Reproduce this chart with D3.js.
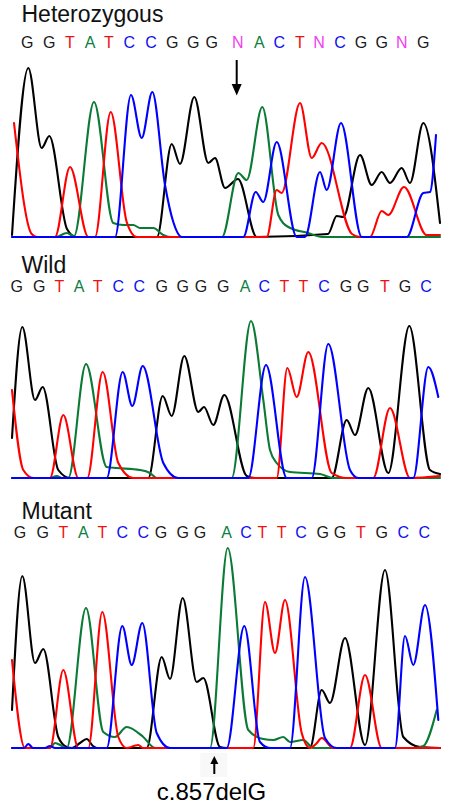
<!DOCTYPE html>
<html>
<head>
<meta charset="utf-8">
<script src="https://cdn.jsdelivr.net/npm/d3@7/dist/d3.min.js"></script>
<style>
  html, body { margin: 0; padding: 0; background: #fff; }
  svg { display: block; font-family: "Liberation Sans", Arial, sans-serif; }
</style>
</head>
<body>
<svg id="chart" width="450" height="804"></svg>
<script>
// ---------- DATA ----------
// Panel titles
const panelTitles = ["Heterozygous", "Wild", "Mutant"];

// Base calls and their scan positions
const hetSeq = ["G","G","T","A","T","C","C","G","G","G","N","A","C","T","N","C","G","G","N","G"];
const hetPos = [27.3,49.3,70,90,109,129.3,151,172.3,193.3,211.7,237.7,259.3,279.3,300,319,340,361,381.7,401.7,423.3];
const wildSeq = ["G","G","T","A","T","C","C","G","G","G","G","A","C","T","T","C","G","G","T","G","C"];
const wildPos = [16.7,39.3,59.3,79,97.7,118.3,139.3,161.7,182.7,201,223.3,245,264.3,284.3,303.3,324,346,363.3,385,405,426];
const mutSeq = ["G","G","T","A","T","C","C","G","G","G","A","C","T","T","C","G","G","T","G","C","C"];
const mutPos = [20,42.7,63.3,83.3,102.3,122.3,143.3,161,182.7,200,226.7,246,262.3,281.7,301,322.7,340,361,381.7,403.3,424.3];

// Trace control points: [scan position, signal intensity]
// Heterozygous
const hetG = [[12,2],[28.3,169],[41.7,89],[49.3,101],[67,8],[76,0],[157,0],[171.7,93],[180,73],[194.3,140],[208.3,74],[215,79],[225,49],[238,58],[256.7,0],[328,3],[336.7,21],[343.3,20],[360,82],[371.7,52],[381.7,65],[390,54],[401.7,69],[410,54],[423.3,114],[440,14]];
const hetT = [[14,114],[31.7,3],[37,0],[55,0],[70,70],[88.3,0],[95,0],[110.7,125],[126.7,15],[136.7,0],[266.7,0],[276.7,47],[281.7,44],[300,134],[311.7,79],[321.7,94],[352,3],[360,0],[370,0],[381.7,26],[388.3,22],[404,50],[426.7,2],[440,2]];
const hetA = [[12,0],[56,0],[66.7,4],[74,1],[94,135],[113.3,14],[123.3,12],[133.3,12],[140,9],[153.3,9],[163.3,2],[170,0],[222,0],[238.3,64],[246.7,57],[262.3,130],[278.3,22],[288.3,10],[308.3,4],[322,0],[440,0]];
const hetC = [[12,0],[115,0],[131,142],[141.7,99],[152.3,145],[165,52],[173.3,15],[181.7,0],[243.3,0],[255.7,45],[263.3,35],[276.7,95],[296.7,0],[305,0],[320,65],[326.7,47],[341,114],[361.7,0],[406.7,0],[423.3,44],[430,45],[436,102]];

// Wild
const wildG = [[12,40],[22.3,151],[35,78],[42.7,91],[58.3,8],[70,0],[148.3,0],[162.7,82],[171.7,62],[184.3,122],[198.3,66],[204,71],[213.3,53],[224.3,83],[246.7,2],[255,0],[331.7,0],[346.7,58],[355,43],[368.3,90],[388.3,5],[409.3,152],[430,8],[440,4]];
const wildT = [[12,88],[23.3,8],[33.3,0],[50,0],[63.3,63],[78.3,0],[87.3,0],[102.7,106],[118.3,15],[133.3,0],[276.7,0],[287.3,110],[296.7,81],[308.3,126],[331.7,5],[346.7,0],[373.3,0],[390,70],[410,0],[440,2]];
const wildA = [[12,0],[50,0],[56.7,2],[62,0],[68.3,0],[86,114],[106.7,11],[116.7,10],[140,8],[150,5],[156.7,0],[231.7,0],[251,157],[263.3,78],[270,28],[276.7,15],[290,6],[320,4],[333.3,0],[440,0]];
const wildC = [[12,0],[106.7,0],[122.7,106],[132.3,72],[142.7,112],[163.3,15],[178.3,0],[248.3,0],[266,113],[286.7,0],[311.7,0],[328.3,134],[350,8],[358.3,0],[413.3,0],[428.3,111],[438.3,81]];

// Mutant
const mutG = [[12,38],[22.3,172],[35,85],[43.3,99],[58.3,11],[66.7,1],[72,0],[80,5],[86.7,9],[93,2],[96.7,0],[146.7,0],[161.7,91],[170,69],[182.7,150],[196.7,66],[203.3,70],[220,1],[226.7,0],[310,0],[321.7,58],[330,45],[345,110],[365,3],[385,178],[403.3,11],[420,1],[440,0]];
const mutT = [[12,88],[25,0],[50,0],[63.3,78],[78.3,0],[88.3,0],[102.3,136],[118.3,11],[126.7,0],[134,2],[138.3,3],[143,0],[253.3,0],[265,146],[275,95],[285,148],[301.7,15],[310,0],[316,4],[321.7,10],[333.3,0],[350,0],[365,73],[381.7,0],[440,0]];
const mutA = [[12,0],[50,0],[55,5],[62,2],[66.7,0],[86,140],[103.3,16],[115,11],[126.7,21],[143.3,11],[155,0],[210,0],[227.7,200],[248.3,18],[263.3,9],[273.3,8],[283.3,11],[290,6],[303.3,8],[313.3,0],[413.3,0],[423.3,2],[436.7,38]];
const mutC = [[12,0],[24,0],[28.3,4],[33,0],[45,0],[50,2],[55,0],[106.7,0],[122.3,122],[131.7,83],[142.3,125],[156.7,15],[170,0],[226.7,0],[244.3,122],[260,6],[270,0],[290,0],[305,171],[325,10],[336.7,0],[395,0],[405,112],[413.3,83],[425,143],[438.3,28]];

const annotationText = "c.857delG";
const hetArrowPos = 236.7;   // scan position of the heterozygous site
const mutArrowPos = 214.3;   // scan position of the deletion

// ---------- STYLE / LAYOUT ----------
const W = 450, H = 804;
const baseColor = { G: "#1a1a1a", A: "#0b8040", T: "#f01010", C: "#1010f0", N: "#f040f0" };
const traceColor = { G: "#000000", A: "#0b7a35", T: "#ff0000", C: "#0000ff" };

const panels = [
  { title: panelTitles[0], titleY: 21.5, seqY: 47.7, base: 237, seq: hetSeq, pos: hetPos,
    traces: { G: hetG, T: hetT, A: hetA, C: hetC } },
  { title: panelTitles[1], titleY: 272.5, seqY: 291.7, base: 478, seq: wildSeq, pos: wildPos,
    traces: { G: wildG, T: wildT, A: wildA, C: wildC } },
  { title: panelTitles[2], titleY: 518.5, seqY: 537.7, base: 748, seq: mutSeq, pos: mutPos,
    traces: { G: mutG, T: mutT, A: mutA, C: mutC } }
];

const svg = d3.select("#chart");
const x = d3.scaleLinear().domain([12, 440]).range([12, 440]);
const traceOrder = ["G", "A", "T", "C"];

panels.forEach(p => {
  const y = d3.scaleLinear().domain([0, 200]).range([p.base, p.base - 200]);
  const line = d3.line()
    .x(d => x(d[0]))
    .y(d => y(d[1]))
    .curve(d3.curveMonotoneX);

  const g = svg.append("g");

  traceOrder.forEach(b => {
    g.append("path")
      .datum(p.traces[b])
      .attr("d", line)
      .attr("fill", "none")
      .attr("stroke", traceColor[b])
      .attr("stroke-width", 2.1)
      .attr("stroke-linejoin", "round")
      .attr("stroke-linecap", "round");
  });

  g.append("text")
    .attr("x", 21.5)
    .attr("y", p.titleY)
    .attr("font-size", 23)
    .attr("fill", "#111")
    .text(p.title);

  g.selectAll("text.base")
    .data(p.seq)
    .join("text")
    .attr("class", "base")
    .attr("x", (d, i) => x(p.pos[i]))
    .attr("y", p.seqY)
    .attr("text-anchor", "middle")
    .attr("font-size", 16)
    .attr("fill", d => baseColor[d])
    .text(d => d);
});

// Heterozygous arrow (pointing down)
{
  const ax = x(hetArrowPos);
  svg.append("line").attr("x1", ax).attr("x2", ax).attr("y1", 60).attr("y2", 91)
    .attr("stroke", "#000").attr("stroke-width", 2);
  svg.append("path")
    .attr("d", `M${ax - 5},84 L${ax + 5},84 L${ax},95.5 Z`)
    .attr("fill", "#000");
}

// Mutant arrow (pointing up) and label
{
  const ax = x(mutArrowPos);
  svg.append("rect").attr("x", ax - 14).attr("y", 753).attr("width", 27).attr("height", 24)
    .attr("fill", "#f8f8f8");
  svg.append("line").attr("x1", ax).attr("x2", ax).attr("y1", 760).attr("y2", 774)
    .attr("stroke", "#000").attr("stroke-width", 2);
  svg.append("path")
    .attr("d", `M${ax - 4},764 L${ax + 4},764 L${ax},756 Z`)
    .attr("fill", "#000");
  svg.append("text")
    .attr("x", 211.5)
    .attr("y", 800)
    .attr("text-anchor", "middle")
    .attr("font-size", 24)
    .attr("fill", "#000")
    .text(annotationText);
}
</script>
</body>
</html>
